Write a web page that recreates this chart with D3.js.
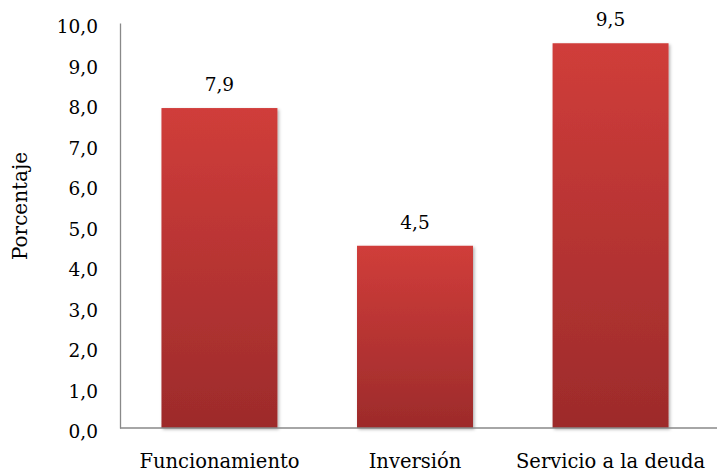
<!DOCTYPE html>
<html>
<head>
<meta charset="utf-8">
<script src="https://cdn.jsdelivr.net/npm/d3@7"></script>
<style>
  body { margin: 0; background: #fff; }
  svg { display: block; }
</style>
</head>
<body>
<div id="chart"></div>
<script>
// Porcentaje por tipo de gasto
const categories = ['Funcionamiento', 'Inversión', 'Servicio a la deuda'];
const values = [7.9, 4.5, 9.5];
const yTicks = [0, 1, 2, 3, 4, 5, 6, 7, 8, 9, 10];

const width = 717, height = 472;
const margin = {top: 23, right: 7, bottom: 44, left: 120};
const font = '"DejaVu Serif", "Liberation Serif", serif';
const fmt = v => d3.format('.1f')(v).replace('.', ',');

const svg = d3.select('#chart')
  .append('svg')
  .attr('width', width)
  .attr('height', height);

const defs = svg.append('defs');
const grad = defs.append('linearGradient')
  .attr('id', 'barGrad')
  .attr('x1', 0).attr('y1', 0).attr('x2', 0).attr('y2', 1);
grad.append('stop').attr('offset', '0%').attr('stop-color', '#d03d3a');
grad.append('stop').attr('offset', '100%').attr('stop-color', '#9d2b2b');

const shadow = defs.append('filter').attr('id', 'shadow')
  .attr('x', '-10%').attr('y', '-10%').attr('width', '130%').attr('height', '130%');
shadow.append('feDropShadow')
  .attr('dx', 1.5).attr('dy', 1.5).attr('stdDeviation', 1.5)
  .attr('flood-color', '#000').attr('flood-opacity', 0.3);

const x = d3.scaleBand()
  .domain(categories)
  .range([margin.left, 710])
  .paddingInner(0.407)
  .paddingOuter(0.212);

const y = d3.scaleLinear()
  .domain([0, 10])
  .range([height - margin.bottom, margin.top]);

// Bars
svg.selectAll('rect.bar')
  .data(values)
  .enter()
  .append('rect')
  .attr('class', 'bar')
  .attr('x', (d, i) => x(categories[i]))
  .attr('y', d => y(d))
  .attr('width', x.bandwidth())
  .attr('height', d => y(0) - y(d))
  .attr('fill', 'url(#barGrad)')
  .attr('filter', 'url(#shadow)');

// Value labels
svg.selectAll('text.val')
  .data(values)
  .enter()
  .append('text')
  .attr('class', 'val')
  .attr('x', (d, i) => x(categories[i]) + x.bandwidth() / 2)
  .attr('y', d => y(d) - 17)
  .attr('text-anchor', 'middle')
  .style('font-family', font)
  .style('font-size', '18.5px')
  .style('fill', '#000')
  .text(d => fmt(d));

// Y axis
const yAxis = svg.append('g')
  .attr('transform', `translate(${margin.left},0)`)
  .call(d3.axisLeft(y).tickValues(yTicks).tickFormat(fmt).tickSize(0).tickPadding(22));
yAxis.select('.domain').attr('stroke', '#898989').attr('stroke-width', 1.3);
yAxis.selectAll('text')
  .attr('dy', '0.53em')
  .style('font-family', font)
  .style('font-size', '18.5px')
  .style('fill', '#000');

// X axis
const xAxis = svg.append('g')
  .attr('transform', `translate(0,${y(0)})`)
  .call(d3.axisBottom(x).tickSize(0).tickPadding(26));
xAxis.select('.domain').remove();
xAxis.append('line')
  .attr('x1', margin.left).attr('x2', width)
  .attr('stroke', '#898989').attr('stroke-width', 1.3);
xAxis.selectAll('text')
  .style('font-family', font)
  .style('font-size', '19.5px')
  .style('fill', '#000');

// Axis title
svg.append('text')
  .attr('transform', 'translate(27,206) rotate(-90)')
  .attr('text-anchor', 'middle')
  .style('font-family', font)
  .style('font-size', '20px')
  .style('fill', '#000')
  .text('Porcentaje');
</script>
</body>
</html>
